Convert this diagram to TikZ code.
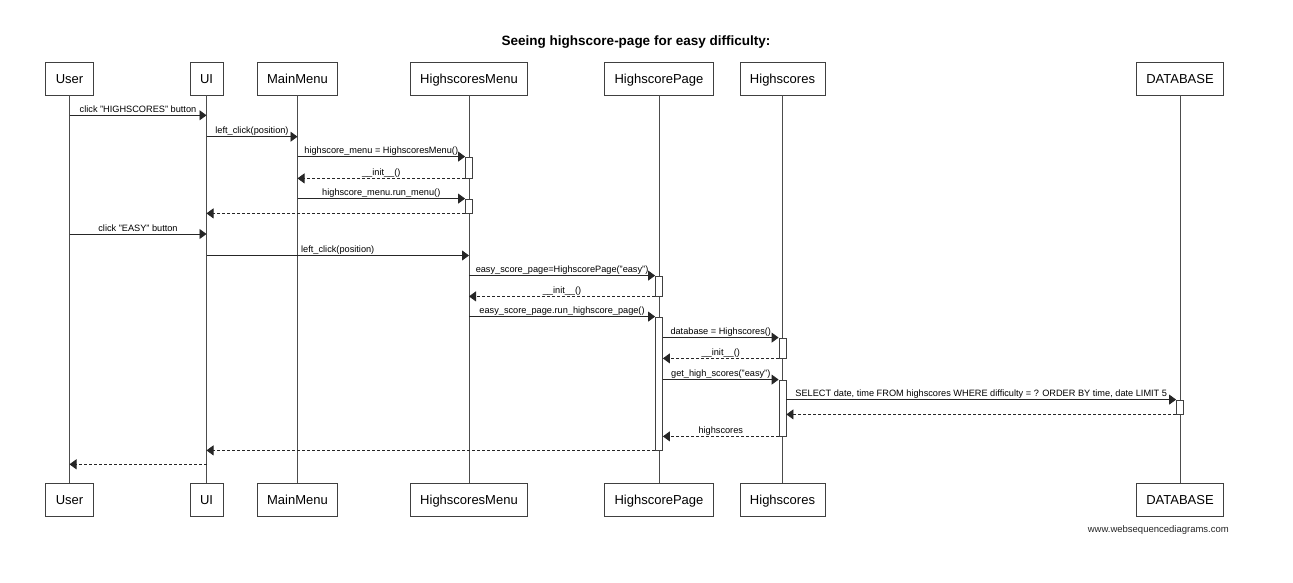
\documentclass[tikz,border=0pt]{standalone}
\usepackage{fontspec}
\setmainfont{Liberation Sans}
\usetikzlibrary{arrows.meta}
\begin{document}
\begin{tikzpicture}[x=1pt,y=-1pt,
 part/.style={draw=black!75, fill=white, minimum height=33pt, inner xsep=10pt, inner ysep=0pt, text height=9.3pt, text depth=0pt, font=\fontsize{13}{15}\selectfont, line width=0.8pt},
 life/.style={draw=black!70, line width=0.8pt},
 act/.style={draw=black!75, fill=white, minimum width=7pt, inner sep=0pt, line width=0.8pt},
 msg/.style={draw=black!85, line width=0.8pt, -{Triangle[length=7pt,width=10pt]}},
 ret/.style={msg, dash pattern=on 3pt off 2pt},
 lbl/.style={anchor=base, yshift=3pt, inner sep=0pt, text=black, font=\fontsize{9.2}{11}\selectfont}
]
\useasboundingbox (0,0) rectangle (1293,583);
\fill[white] (0,0) rectangle (1293,583);

\node[font=\bfseries\fontsize{13.5}{16}\selectfont, anchor=base, inner sep=0pt] (title) at (636,45.5) {Seeing highscore-page for easy difficulty:};

% participants
\node[part] (uT) at (69.5,78.5) {User};
\node[part] (uB) at (69.5,500) {User};
\node[part] (iT) at (206.5,78.5) {UI};
\node[part] (iB) at (206.5,500) {UI};
\node[part] (mT) at (297.5,78.5) {MainMenu};
\node[part] (mB) at (297.5,500) {MainMenu};
\node[part] (hT) at (469,78.5) {HighscoresMenu};
\node[part] (hB) at (469,500) {HighscoresMenu};
\node[part] (pT) at (659,78.5) {HighscorePage};
\node[part] (pB) at (659,500) {HighscorePage};
\node[part] (sT) at (782.5,78.5) {Highscores};
\node[part] (sB) at (782.5,500) {Highscores};
\node[part] (dT) at (1180,78.5) {DATABASE};
\node[part] (dB) at (1180,500) {DATABASE};

% lifelines
\draw[life] (uT) -- (uB);
\draw[life] (iT) -- (iB);
\draw[life] (mT) -- (mB);
\draw[life] (hT) -- (hB);
\draw[life] (pT) -- (pB);
\draw[life] (sT) -- (sB);
\draw[life] (dT) -- (dB);

% activations
\node[act, minimum height=21pt] (a1) at (469,167.5) {};
\node[act, minimum height=14pt] (a2) at (469,206) {};
\node[act, minimum height=20pt] (a3) at (659,286) {};
\node[act, minimum height=133pt] (a4) at (659,383.5) {};
\node[act, minimum height=20pt] (a5) at (782.5,348) {};
\node[act, minimum height=56pt] (a6) at (782.5,408) {};
\node[act, minimum height=14pt] (a7) at (1180,407) {};

% rows
\coordinate (r1) at (0,115.3);
\coordinate (r2) at (0,136.7);
\coordinate (r7) at (0,234);
\coordinate (r8) at (0,255.5);
\coordinate (r19) at (0,464.3);

% messages
\draw[msg] (uT |- r1) -- node[lbl]{click "HIGHSCORES" button} (iT |- r1);
\draw[msg] (iT |- r2) -- node[lbl]{left\_click(position)} (mT |- r2);
\draw[msg] (mT |- a1.north) -- node[lbl]{highscore\_menu = HighscoresMenu()} (a1.north west);
\draw[ret] (a1.south west) -- node[lbl]{\_\_init\_\_()} (mT |- a1.south);
\draw[msg] (mT |- a2.north) -- node[lbl]{highscore\_menu.run\_menu()} (a2.north west);
\draw[ret] (a2.south west) -- (iT |- a2.south);
\draw[msg] (uT |- r7) -- node[lbl]{click "EASY" button} (iT |- r7);
\draw[msg] (iT |- r8) -- node[lbl]{left\_click(position)} (hT |- r8);
\draw[msg] (hT |- a3.north) -- node[lbl]{easy\_score\_page=HighscorePage("easy")} (a3.north west);
\draw[ret] (a3.south west) -- node[lbl]{\_\_init\_\_()} (hT |- a3.south);
\draw[msg] (hT |- a4.north) -- node[lbl]{easy\_score\_page.run\_highscore\_page()} (a4.north west);
\draw[msg] (a4.east |- a5.north) -- node[lbl]{database = Highscores()} (a5.north west);
\draw[ret] (a5.south west) -- node[lbl]{\_\_init\_\_()} (a4.east |- a5.south);
\draw[msg] (a4.east |- a6.north) -- node[lbl]{get\_high\_scores("easy")} (a6.north west);
\draw[msg] (a6.east |- a7.north) -- node[lbl]{SELECT date, time FROM highscores WHERE difficulty = ? ORDER BY time, date LIMIT 5} (a7.north west);
\draw[ret] (a7.south west) -- (a6.east |- a7.south);
\draw[ret] (a6.south west) -- node[lbl]{highscores} (a4.east |- a6.south);
\draw[ret] (a4.south west) -- (iT |- a4.south);
\draw[ret] (iT |- r19) -- (uT |- r19);

\node[anchor=base east, inner sep=0pt, text=black!85, font=\fontsize{9.5}{11}\selectfont] (wm) at (1229,532) {www.websequencediagrams.com};
\end{tikzpicture}
\end{document}
